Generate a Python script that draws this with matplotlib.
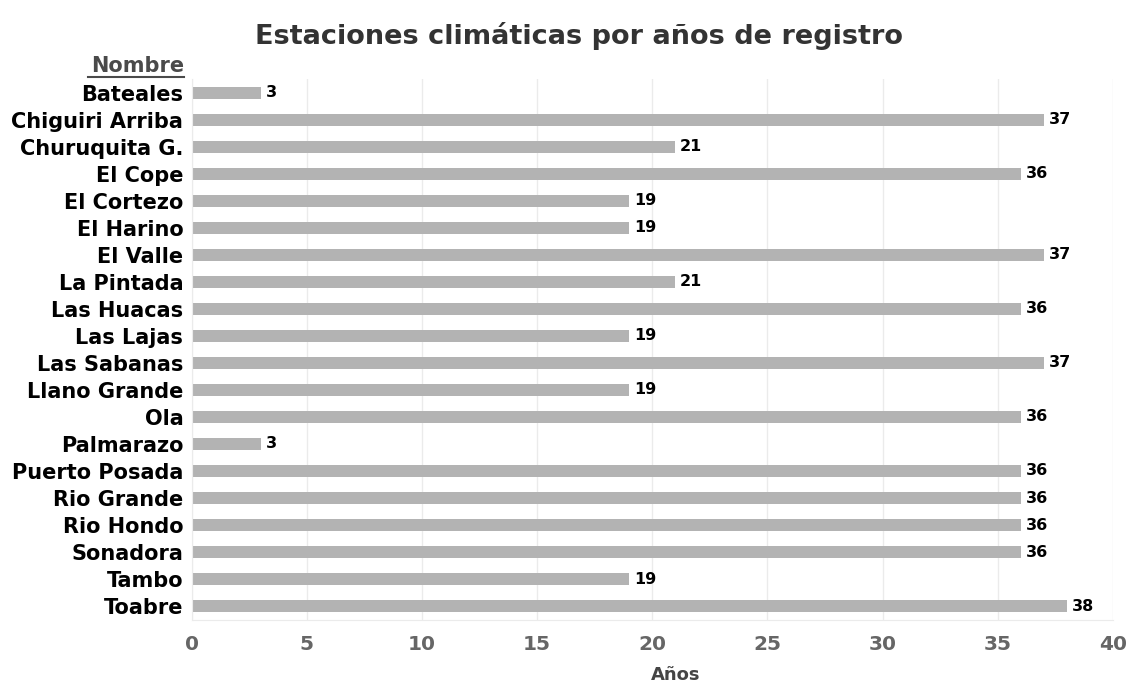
import matplotlib
matplotlib.use('Agg')
import matplotlib.pyplot as plt

estaciones = ['Bateales', 'Chiguiri Arriba', 'Churuquita G.', 'El Cope', 'El Cortezo',
              'El Harino', 'El Valle', 'La Pintada', 'Las Huacas', 'Las Lajas',
              'Las Sabanas', 'Llano Grande', 'Ola', 'Palmarazo', 'Puerto Posada',
              'Rio Grande', 'Rio Hondo', 'Sonadora', 'Tambo', 'Toabre']
anios = [3, 37, 21, 36, 19, 19, 37, 21, 36, 19, 37, 19, 36, 3, 36, 36, 36, 36, 19, 38]
xticks = [0, 5, 10, 15, 20, 25, 30, 35, 40]

plt.rcParams['font.family'] = ['DejaVu Sans']

fig = plt.figure(figsize=(11.29, 6.85), dpi=100)
ax = fig.add_axes([0.1698, 0.0956, 0.816, 0.7884])

pos = list(range(len(estaciones)))
ax.barh(pos, anios, height=0.45, color='#b3b3b3', zorder=2)
ax.set_ylim(len(estaciones) - 0.5, -0.5)
ax.set_xlim(0, 40)

for y, v in zip(pos, anios):
    ax.text(v + 0.2, y, str(v), va='center', ha='left', fontsize=11.5,
            fontweight='bold', color='black')

ax.set_yticks(pos)
ax.set_yticklabels(estaciones, fontsize=15, fontweight='bold', color='black')
ax.set_xticks(xticks)
ax.set_xticklabels([str(t) for t in xticks], fontsize=14.5, fontweight='bold', color='#666666')
ax.tick_params(axis='both', length=0)
ax.tick_params(axis='y', pad=6)
ax.tick_params(axis='x', pad=11)

ax.grid(axis='x', color='#ebebeb', linewidth=1, zorder=0)
for s in ['top', 'right']:
    ax.spines[s].set_visible(False)
for s in ['left', 'bottom']:
    ax.spines[s].set_color('#ebebeb')

# axis title sits just above the bottom edge
ax.set_xlabel('Años', fontsize=13, fontweight='bold', color='#444444')
ax.xaxis.set_label_coords(0.525, -0.086)

fig.text(0.513, 0.948, 'Estaciones climáticas por años de registro', ha='center',
         va='center', fontsize=19.5, fontweight='bold', color='#333333')

fig.text(0.163, 0.903, 'Nombre', ha='right', va='center', fontsize=15,
         fontweight='bold', color='#4a4a4a')
fig.add_artist(plt.Line2D([0.078, 0.163], [0.887, 0.887], color='#4a4a4a', linewidth=1.5))

fig.savefig('out.png', dpi=100)
